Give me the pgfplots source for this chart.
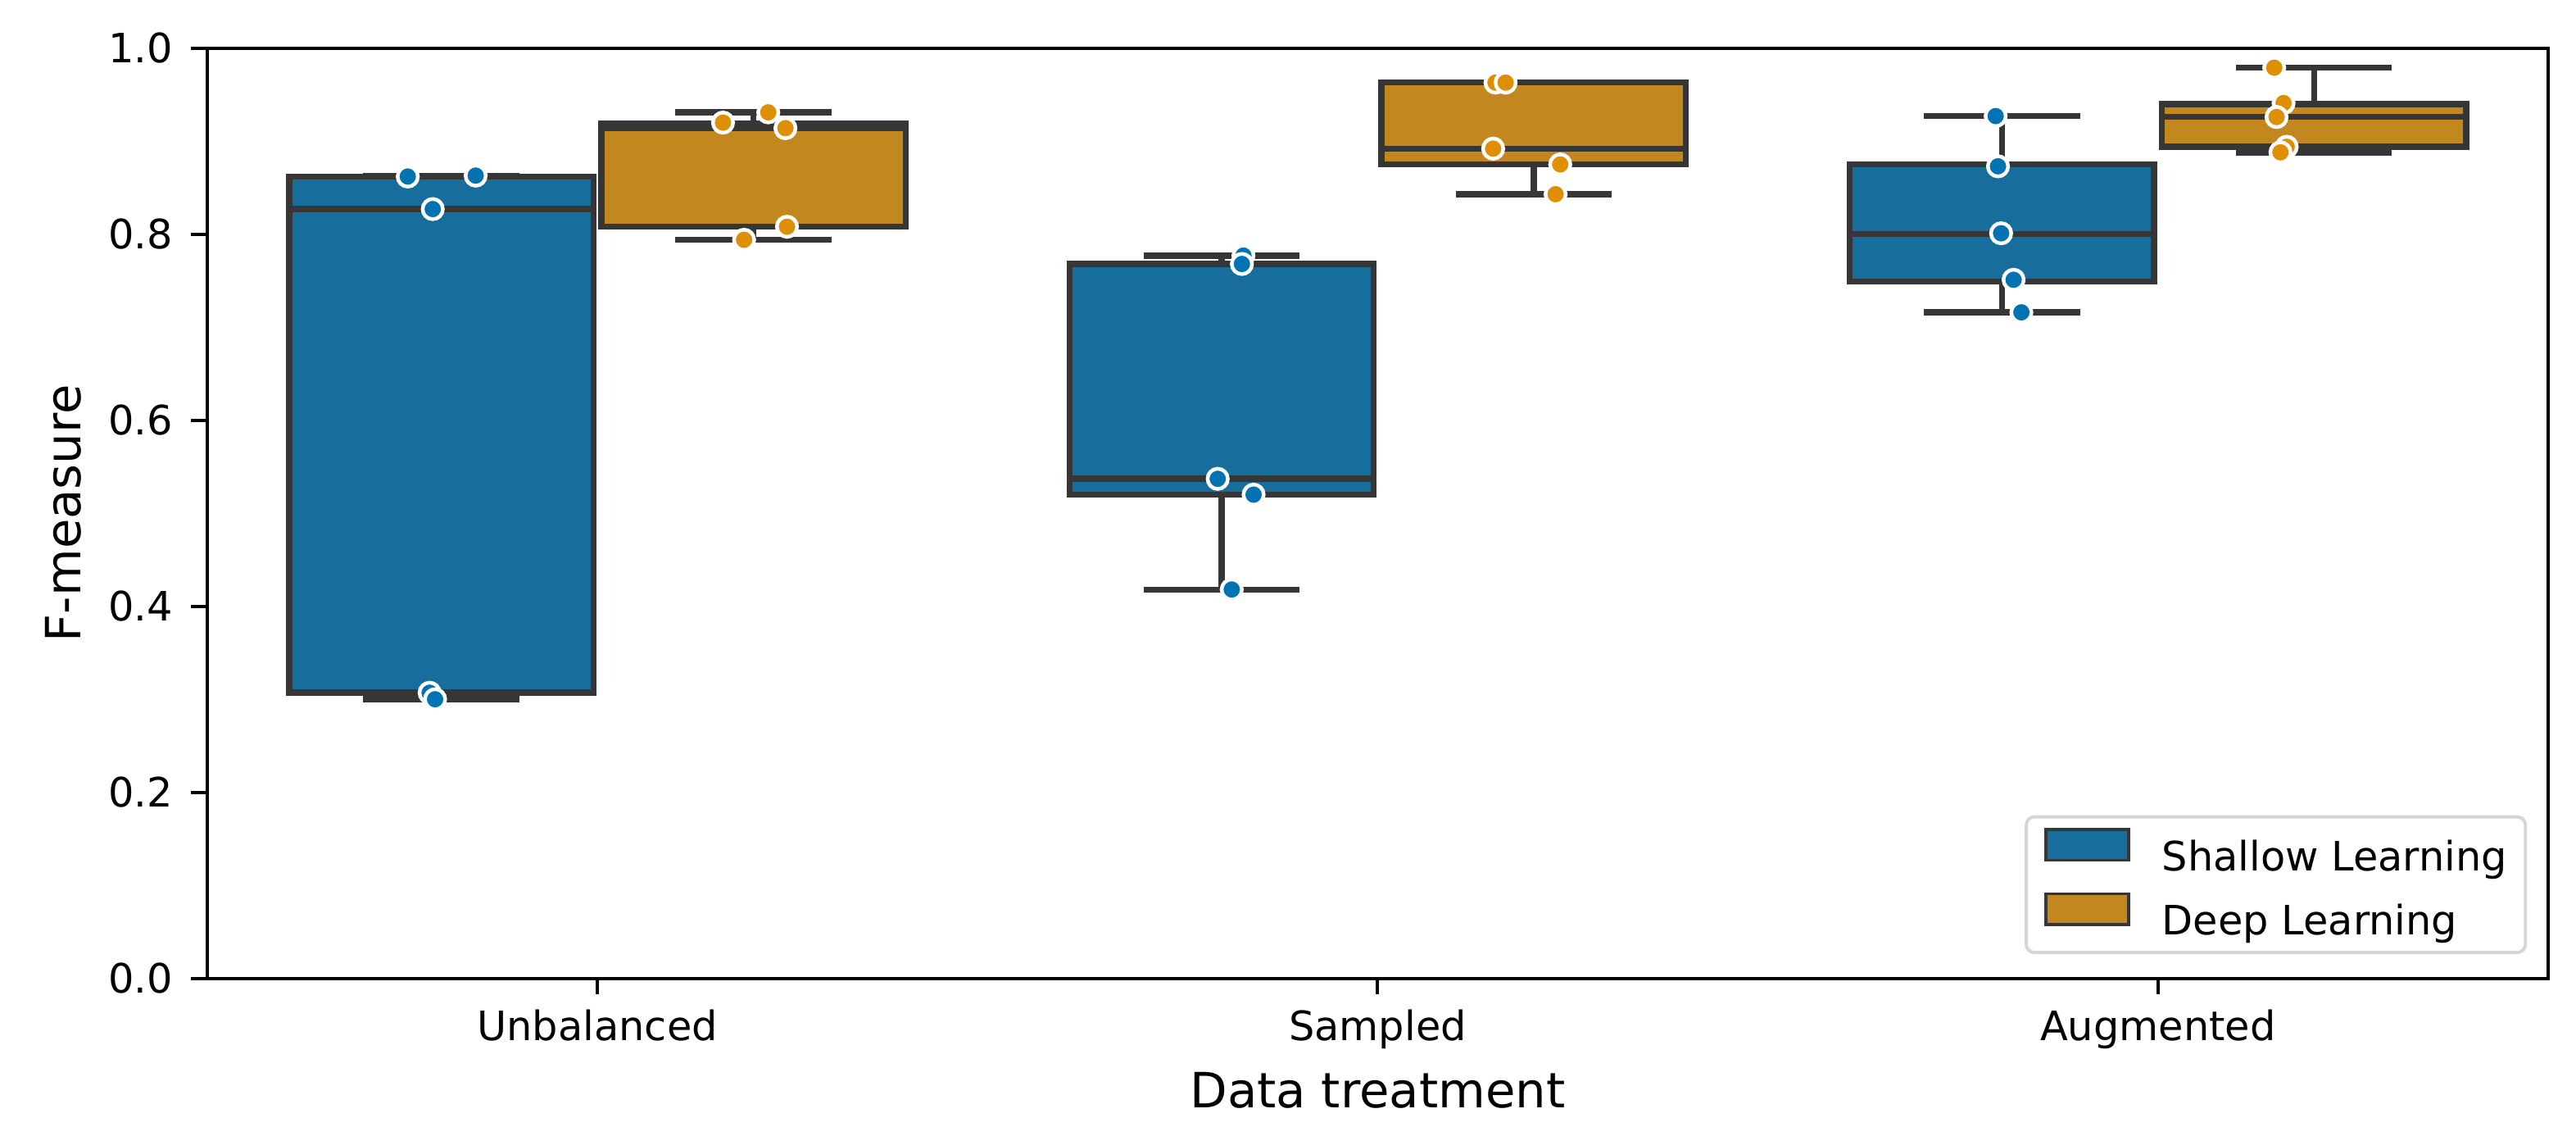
\documentclass[border=0pt]{standalone}
\usepackage{fontspec}
\setmainfont{DejaVu Sans}
\usepackage{pgfplots}
\usepackage{pgfplotstable}
\pgfplotsset{compat=1.18}
\usepgfplotslibrary{statistics}

\definecolor{sblue}{HTML}{0173B2}
\definecolor{sorange}{HTML}{DE8F05}
\definecolor{bblue}{HTML}{176D9C}
\definecolor{borange}{HTML}{C38720}
\definecolor{boxline}{HTML}{363636}
\definecolor{legendgray}{HTML}{D6D6D6}

% strip points (x = category position + jitter, y = F-measure)
\pgfplotstableread{
x y
-0.243 0.862
-0.156 0.863
-0.211 0.827
-0.215 0.307
-0.208 0.300
}\ptsUS
\pgfplotstableread{
x y
0.161 0.920
0.219 0.931
0.241 0.914
0.243 0.808
0.188 0.794
}\ptsUD
\pgfplotstableread{
x y
0.828 0.777
0.826 0.768
0.795 0.537
0.841 0.520
0.813 0.418
}\ptsSS
\pgfplotstableread{
x y
1.151 0.963
1.164 0.963
1.148 0.892
1.234 0.875
1.228 0.843
}\ptsSD
\pgfplotstableread{
x y
1.792 0.927
1.795 0.873
1.799 0.801
1.815 0.751
1.825 0.716
}\ptsAS
\pgfplotstableread{
x y
2.149 0.979
2.161 0.941
2.152 0.926
2.165 0.894
2.157 0.888
}\ptsAD

\begin{document}
\begin{tikzpicture}
\path[use as bounding box] (-51.2pt,-36.6pt) rectangle (585.2pt,241.6pt);
\begin{axis}[
  scale only axis,
  width=578.3pt, height=229.7pt,
  xmin=-0.5, xmax=2.5, ymin=0, ymax=1,
  xtick={0,1,2},
  xticklabels={Unbalanced,Sampled,Augmented},
  ytick={0,0.2,0.4,0.6,0.8,1.0},
  /pgf/number format/assume math mode=true,
  yticklabel style={/pgf/number format/fixed, /pgf/number format/fixed zerofill, /pgf/number format/precision=1,
    anchor=east, inner sep=0pt, xshift=-4.3pt, font=\fontsize{10}{12}\selectfont},
  xticklabel style={anchor=base, yshift=-11.4pt, font=\fontsize{10}{12}\selectfont},
  tick align=outside,
  major tick length=4pt,
  tick style={black, line width=0.8pt},
  xtick pos=bottom, ytick pos=left,
  axis line style={black, line width=0.8pt},
  xlabel={Data treatment},
  xlabel style={font=\fontsize{12}{14}\selectfont, at={(axis description cs:0.5,0)}, anchor=base, yshift=-32pt},
  ylabel={F-measure},
  ylabel style={font=\fontsize{12}{14}\selectfont, at={(axis description cs:-0.0616,0.5)}, anchor=center},
  legend image code/.code={\draw[#1,draw=boxline,line width=0.7pt,sharp corners] (0pt,-0.3pt) rectangle (20.4pt,7.3pt); \path (28.3pt,3.5pt);},
  legend cell align=left,
  legend style={at={(0.991,0.026)}, anchor=south east, draw=legendgray, line width=0.8pt,
    rounded corners=2pt, fill=white, font=\fontsize{10}{12}\selectfont,
    inner xsep=4.5pt, inner ysep=2.8pt, row sep=3.8pt,
    nodes={inner sep=0pt, text height=7.3pt, text depth=1.5pt}},
  boxplot/draw direction=y,
  boxplot/box extend=0.39,
  boxplot/whisker extend=0.2,
]
% boxes
\addplot[forget plot, fill=bblue, draw=boxline, line width=1.5pt, line join=miter,
  boxplot prepared={draw position=-0.2, lower whisker=0.300, lower quartile=0.307, median=0.827, upper quartile=0.862, upper whisker=0.863}] coordinates {};
\addplot[forget plot, fill=borange, draw=boxline, line width=1.5pt, line join=miter,
  boxplot prepared={draw position=0.2, lower whisker=0.794, lower quartile=0.808, median=0.914, upper quartile=0.919, upper whisker=0.931}] coordinates {};
\addplot[forget plot, fill=bblue, draw=boxline, line width=1.5pt, line join=miter,
  boxplot prepared={draw position=0.8, lower whisker=0.418, lower quartile=0.520, median=0.537, upper quartile=0.768, upper whisker=0.777}] coordinates {};
\addplot[forget plot, fill=borange, draw=boxline, line width=1.5pt, line join=miter,
  boxplot prepared={draw position=1.2, lower whisker=0.843, lower quartile=0.875, median=0.892, upper quartile=0.963, upper whisker=0.963}] coordinates {};
\addplot[forget plot, fill=bblue, draw=boxline, line width=1.5pt, line join=miter,
  boxplot prepared={draw position=1.8, lower whisker=0.716, lower quartile=0.749, median=0.800, upper quartile=0.875, upper whisker=0.927}] coordinates {};
\addplot[forget plot, fill=borange, draw=boxline, line width=1.5pt, line join=miter,
  boxplot prepared={draw position=2.2, lower whisker=0.888, lower quartile=0.894, median=0.926, upper quartile=0.940, upper whisker=0.979}] coordinates {};
% points
\addplot[forget plot, only marks, mark=*, mark size=2.5pt, mark options={fill=sblue, draw=white, line width=0.9pt}] table {\ptsUS};
\addplot[forget plot, only marks, mark=*, mark size=2.5pt, mark options={fill=sorange, draw=white, line width=0.9pt}] table {\ptsUD};
\addplot[forget plot, only marks, mark=*, mark size=2.5pt, mark options={fill=sblue, draw=white, line width=0.9pt}] table {\ptsSS};
\addplot[forget plot, only marks, mark=*, mark size=2.5pt, mark options={fill=sorange, draw=white, line width=0.9pt}] table {\ptsSD};
\addplot[forget plot, only marks, mark=*, mark size=2.5pt, mark options={fill=sblue, draw=white, line width=0.9pt}] table {\ptsAS};
\addplot[forget plot, only marks, mark=*, mark size=2.5pt, mark options={fill=sorange, draw=white, line width=0.9pt}] table {\ptsAD};
% legend
\addlegendimage{fill=bblue}
\addlegendentry{Shallow Learning}
\addlegendimage{fill=borange}
\addlegendentry{Deep Learning}
\end{axis}
\end{tikzpicture}
\end{document}
